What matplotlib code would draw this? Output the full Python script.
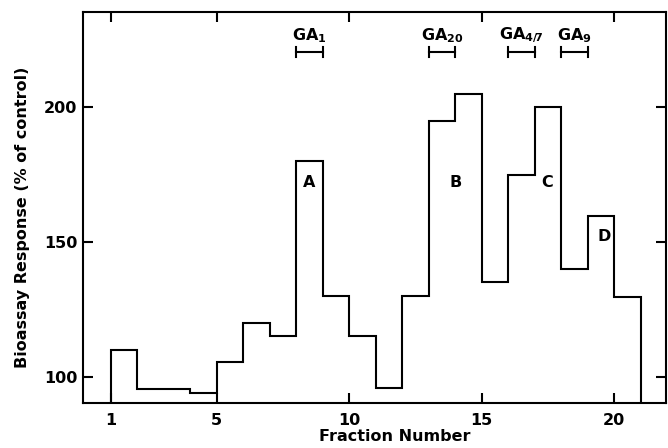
import matplotlib
matplotlib.use("Agg")
import matplotlib.pyplot as plt
import numpy as np

plt.rcParams['font.family'] = ['DejaVu Sans']
plt.rcParams['font.weight'] = 'bold'
plt.rcParams['mathtext.fontset'] = 'dejavusans'

# Data
fractions = list(range(1, 22))  # bin edges 1..21
response = [110, 95.3, 95.3, 94, 105.5, 120, 115.2, 180, 130, 115,
            95.7, 130, 195, 205, 135.2, 175, 200, 140, 159.5, 129.6]
ga_labels = [r'$\mathbf{GA_1}$', r'$\mathbf{GA_{20}}$', r'$\mathbf{GA_{4/7}}$', r'$\mathbf{GA_9}$']
ga_ranges = [(8, 9), (13, 14), (16, 17), (18, 19)]
ga_level = 220.5
peak_labels = ['A', 'B', 'C', 'D']
peak_pos = [(8.5, 172), (14.0, 172), (17.45, 172), (19.6, 152)]
xticks = [1, 5, 10, 15, 20]
yticks = [100, 150, 200]

fig = plt.figure(figsize=(6.68, 4.48), dpi=100)
ax = fig.add_axes([0.1243, 0.1004, 0.8727, 0.8726])
ylo, yhi = 90.2, 235.3
ax.set_xlim(-0.045, 21.95)
ax.set_ylim(ylo, yhi)

ax.stairs(response, fractions, baseline=ylo, color='black', lw=1.5, clip_on=False)

for (a, b), lab in zip(ga_ranges, ga_labels):
    ax.plot([a, b], [ga_level, ga_level], color='black', lw=1.5)
    ax.plot([a, a], [ga_level - 2, ga_level + 2], color='black', lw=1.5)
    ax.plot([b, b], [ga_level - 2, ga_level + 2], color='black', lw=1.5)
    ax.text((a + b) / 2, ga_level + 2.5, lab, ha='center', va='bottom',
            fontsize=11.5, fontweight='bold')

for lab, (x, y) in zip(peak_labels, peak_pos):
    ax.text(x, y, lab, ha='center', va='center', fontsize=11.5, fontweight='bold')

ax.set_xticks(xticks)
ax.set_yticks(yticks)
ax.tick_params(direction='in', length=7, width=1.5, top=True, right=True,
               labelsize=11.5)
ax.tick_params(axis='x', pad=7)
ax.tick_params(axis='y', pad=4)
for lbl in ax.get_xticklabels() + ax.get_yticklabels():
    lbl.set_fontweight('bold')
for s in ax.spines.values():
    s.set_linewidth(1.5)

ax.set_xlabel('Fraction Number', fontsize=11.5, fontweight='bold', labelpad=1)
ax.xaxis.label.set_x(0.534)
ax.set_ylabel('Bioassay Response (% of control)', fontsize=11.5, fontweight='bold', labelpad=10)
ax.yaxis.label.set_y(0.475)

fig.savefig('out.png', dpi=100)
